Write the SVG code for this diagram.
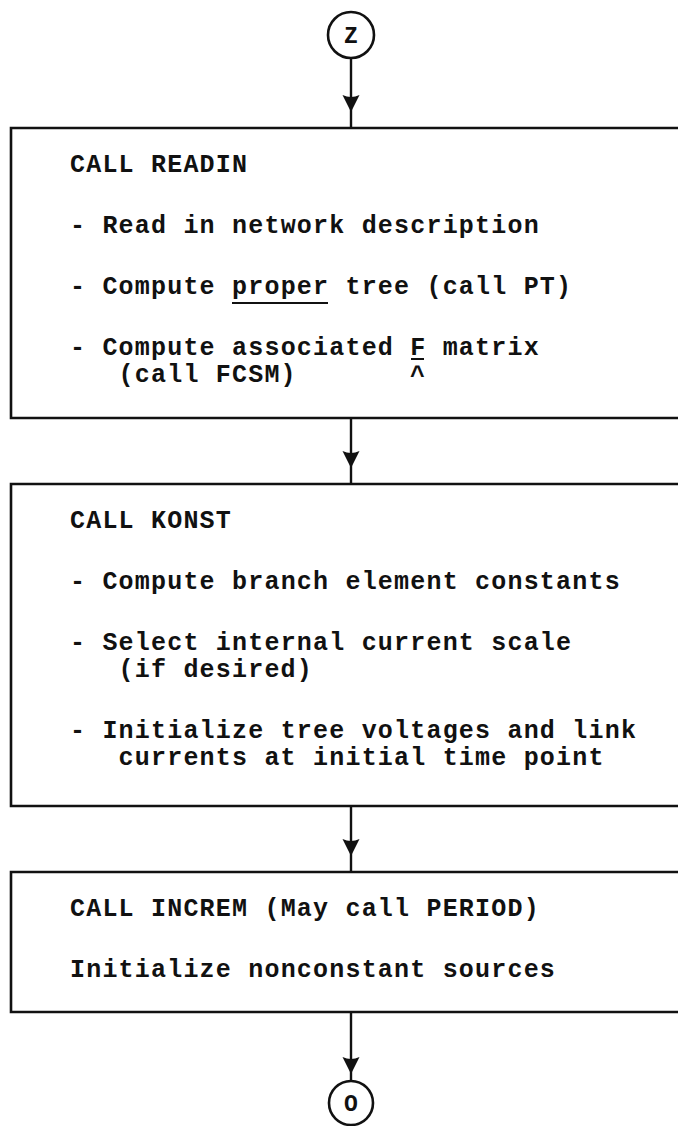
<svg xmlns="http://www.w3.org/2000/svg" width="678" height="1126" viewBox="0 0 678 1126">
  <style>
    .frame { fill: none; stroke: #111; stroke-width: 2.6; }
    .ring { fill: #fff; stroke: #111; stroke-width: 2.6; }
    .wire { stroke: #111; stroke-width: 2.4; fill: none; }
    .rule { stroke: #111; stroke-width: 2; }
    .tt { font-family: "Liberation Mono", "DejaVu Sans Mono", monospace; font-size: 25px; font-weight: bold; letter-spacing: 1.2px; fill: #111; }
    .lbl { font-family: "Liberation Mono", "DejaVu Sans Mono", monospace; font-size: 23px; font-weight: bold; fill: #111; text-anchor: middle; }
  </style>
  <defs>
    <!-- arrowhead drawn with its tip at the origin, pointing down -->
    <path id="ah" d="M0 0 L-8.5 -17 Q0 -13 8.5 -17 Z" fill="#111"/>
  </defs>

  <rect width="678" height="1126" fill="#fff"/>

  <g id="connectors">
    <line class="wire" x1="351" y1="58" x2="351" y2="128"/>
    <use href="#ah" x="351" y="112"/>
    <line class="wire" x1="351" y1="418" x2="351" y2="484"/>
    <use href="#ah" x="351" y="468"/>
    <line class="wire" x1="351" y1="806" x2="351" y2="872"/>
    <use href="#ah" x="351" y="856"/>
    <line class="wire" x1="351" y1="1012" x2="351" y2="1080"/>
    <use href="#ah" x="351" y="1074"/>
  </g>

  <g id="node-z">
    <circle class="ring" cx="351" cy="35" r="23"/>
    <text class="lbl" x="351" y="43">Z</text>
  </g>

  <g id="node-readin">
    <path class="frame" d="M678 128 H11 V418 H678"/>
    <text class="tt" x="70" y="172">CALL READIN</text>
    <text class="tt" x="70" y="233">- Read in network description</text>
    <text class="tt" x="70" y="294">- Compute proper tree (call PT)</text>
    <line class="rule" x1="232" y1="303" x2="328" y2="303"/>
    <text class="tt" x="70" y="355">- Compute associated F matrix</text>
    <line class="rule" x1="411" y1="359" x2="424" y2="359"/>
    <text class="tt" x="118.6" y="382">(call FCSM)</text>
    <text class="tt" x="410" y="384">^</text>
  </g>

  <g id="node-konst">
    <path class="frame" d="M678 484 H11 V806 H678"/>
    <text class="tt" x="70" y="528">CALL KONST</text>
    <text class="tt" x="70" y="589">- Compute branch element constants</text>
    <text class="tt" x="70" y="650">- Select internal current scale</text>
    <text class="tt" x="118.6" y="677">(if desired)</text>
    <text class="tt" x="70" y="738">- Initialize tree voltages and link</text>
    <text class="tt" x="118.6" y="765">currents at initial time point</text>
  </g>

  <g id="node-increm">
    <path class="frame" d="M678 872 H11 V1012 H678"/>
    <text class="tt" x="70" y="916">CALL INCREM (May call PERIOD)</text>
    <text class="tt" x="70" y="977">Initialize nonconstant sources</text>
  </g>

  <g id="node-o">
    <circle class="ring" cx="351" cy="1103" r="22"/>
    <text class="lbl" x="351" y="1111">O</text>
  </g>
</svg>
